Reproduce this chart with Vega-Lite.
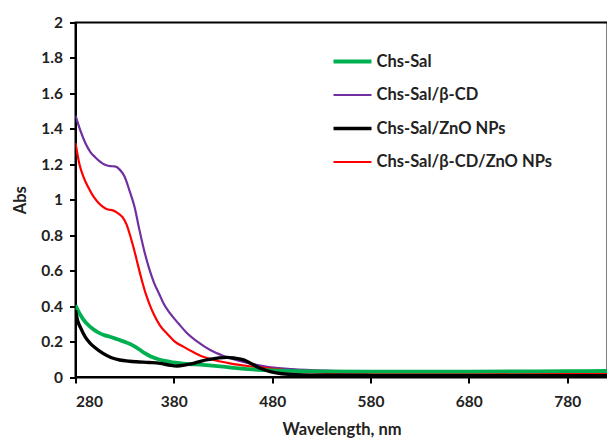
{
  "$schema": "https://vega.github.io/schema/vega-lite/v6.json",
  "autosize": "none",
  "padding": {"left": 75.5, "top": 22.5, "right": 0, "bottom": 63},
  "width": 532,
  "height": 354.5,
  "background": "white",
  "config": {
    "view": {"stroke": "black", "strokeWidth": 2},
    "font": "Lato"
  },
  "datasets": {
    "spectra": [
      {"series": "Chs-Sal/β-CD", "wl": 280, "abs": 1.475},
      {"series": "Chs-Sal/β-CD", "wl": 285, "abs": 1.39},
      {"series": "Chs-Sal/β-CD", "wl": 290, "abs": 1.32},
      {"series": "Chs-Sal/β-CD", "wl": 295, "abs": 1.27},
      {"series": "Chs-Sal/β-CD", "wl": 300, "abs": 1.24},
      {"series": "Chs-Sal/β-CD", "wl": 305, "abs": 1.215},
      {"series": "Chs-Sal/β-CD", "wl": 310, "abs": 1.197},
      {"series": "Chs-Sal/β-CD", "wl": 315, "abs": 1.19},
      {"series": "Chs-Sal/β-CD", "wl": 320, "abs": 1.188},
      {"series": "Chs-Sal/β-CD", "wl": 325, "abs": 1.17},
      {"series": "Chs-Sal/β-CD", "wl": 330, "abs": 1.13},
      {"series": "Chs-Sal/β-CD", "wl": 335, "abs": 1.05},
      {"series": "Chs-Sal/β-CD", "wl": 340, "abs": 0.96},
      {"series": "Chs-Sal/β-CD", "wl": 345, "abs": 0.83},
      {"series": "Chs-Sal/β-CD", "wl": 350, "abs": 0.71},
      {"series": "Chs-Sal/β-CD", "wl": 355, "abs": 0.61},
      {"series": "Chs-Sal/β-CD", "wl": 360, "abs": 0.53},
      {"series": "Chs-Sal/β-CD", "wl": 365, "abs": 0.47},
      {"series": "Chs-Sal/β-CD", "wl": 370, "abs": 0.41},
      {"series": "Chs-Sal/β-CD", "wl": 376, "abs": 0.36},
      {"series": "Chs-Sal/β-CD", "wl": 385, "abs": 0.30},
      {"series": "Chs-Sal/β-CD", "wl": 393, "abs": 0.25},
      {"series": "Chs-Sal/β-CD", "wl": 405, "abs": 0.195},
      {"series": "Chs-Sal/β-CD", "wl": 417, "abs": 0.152},
      {"series": "Chs-Sal/β-CD", "wl": 430, "abs": 0.12},
      {"series": "Chs-Sal/β-CD", "wl": 444, "abs": 0.095},
      {"series": "Chs-Sal/β-CD", "wl": 460, "abs": 0.073},
      {"series": "Chs-Sal/β-CD", "wl": 475, "abs": 0.058},
      {"series": "Chs-Sal/β-CD", "wl": 500, "abs": 0.045},
      {"series": "Chs-Sal/β-CD", "wl": 540, "abs": 0.035},
      {"series": "Chs-Sal/β-CD", "wl": 580, "abs": 0.03},
      {"series": "Chs-Sal/β-CD", "wl": 680, "abs": 0.027},
      {"series": "Chs-Sal/β-CD", "wl": 780, "abs": 0.028},
      {"series": "Chs-Sal/β-CD", "wl": 821, "abs": 0.028},

      {"series": "Chs-Sal/β-CD/ZnO NPs", "wl": 280, "abs": 1.32},
      {"series": "Chs-Sal/β-CD/ZnO NPs", "wl": 284, "abs": 1.2},
      {"series": "Chs-Sal/β-CD/ZnO NPs", "wl": 288, "abs": 1.13},
      {"series": "Chs-Sal/β-CD/ZnO NPs", "wl": 293, "abs": 1.07},
      {"series": "Chs-Sal/β-CD/ZnO NPs", "wl": 298, "abs": 1.02},
      {"series": "Chs-Sal/β-CD/ZnO NPs", "wl": 303, "abs": 0.985},
      {"series": "Chs-Sal/β-CD/ZnO NPs", "wl": 308, "abs": 0.96},
      {"series": "Chs-Sal/β-CD/ZnO NPs", "wl": 313, "abs": 0.945},
      {"series": "Chs-Sal/β-CD/ZnO NPs", "wl": 318, "abs": 0.94},
      {"series": "Chs-Sal/β-CD/ZnO NPs", "wl": 323, "abs": 0.925},
      {"series": "Chs-Sal/β-CD/ZnO NPs", "wl": 328, "abs": 0.90},
      {"series": "Chs-Sal/β-CD/ZnO NPs", "wl": 332, "abs": 0.86},
      {"series": "Chs-Sal/β-CD/ZnO NPs", "wl": 336, "abs": 0.79},
      {"series": "Chs-Sal/β-CD/ZnO NPs", "wl": 340, "abs": 0.71},
      {"series": "Chs-Sal/β-CD/ZnO NPs", "wl": 344, "abs": 0.62},
      {"series": "Chs-Sal/β-CD/ZnO NPs", "wl": 348, "abs": 0.535},
      {"series": "Chs-Sal/β-CD/ZnO NPs", "wl": 352, "abs": 0.46},
      {"series": "Chs-Sal/β-CD/ZnO NPs", "wl": 356, "abs": 0.40},
      {"series": "Chs-Sal/β-CD/ZnO NPs", "wl": 360, "abs": 0.35},
      {"series": "Chs-Sal/β-CD/ZnO NPs", "wl": 366, "abs": 0.29},
      {"series": "Chs-Sal/β-CD/ZnO NPs", "wl": 373, "abs": 0.245},
      {"series": "Chs-Sal/β-CD/ZnO NPs", "wl": 381, "abs": 0.20},
      {"series": "Chs-Sal/β-CD/ZnO NPs", "wl": 390, "abs": 0.17},
      {"series": "Chs-Sal/β-CD/ZnO NPs", "wl": 400, "abs": 0.14},
      {"series": "Chs-Sal/β-CD/ZnO NPs", "wl": 410, "abs": 0.114},
      {"series": "Chs-Sal/β-CD/ZnO NPs", "wl": 423, "abs": 0.093},
      {"series": "Chs-Sal/β-CD/ZnO NPs", "wl": 437, "abs": 0.077},
      {"series": "Chs-Sal/β-CD/ZnO NPs", "wl": 455, "abs": 0.062},
      {"series": "Chs-Sal/β-CD/ZnO NPs", "wl": 475, "abs": 0.05},
      {"series": "Chs-Sal/β-CD/ZnO NPs", "wl": 500, "abs": 0.035},
      {"series": "Chs-Sal/β-CD/ZnO NPs", "wl": 540, "abs": 0.022},
      {"series": "Chs-Sal/β-CD/ZnO NPs", "wl": 580, "abs": 0.018},
      {"series": "Chs-Sal/β-CD/ZnO NPs", "wl": 680, "abs": 0.016},
      {"series": "Chs-Sal/β-CD/ZnO NPs", "wl": 780, "abs": 0.017},
      {"series": "Chs-Sal/β-CD/ZnO NPs", "wl": 821, "abs": 0.017},

      {"series": "Chs-Sal", "wl": 280, "abs": 0.405},
      {"series": "Chs-Sal", "wl": 285, "abs": 0.35},
      {"series": "Chs-Sal", "wl": 290, "abs": 0.31},
      {"series": "Chs-Sal", "wl": 295, "abs": 0.283},
      {"series": "Chs-Sal", "wl": 300, "abs": 0.262},
      {"series": "Chs-Sal", "wl": 305, "abs": 0.246},
      {"series": "Chs-Sal", "wl": 310, "abs": 0.235},
      {"series": "Chs-Sal", "wl": 315, "abs": 0.227},
      {"series": "Chs-Sal", "wl": 320, "abs": 0.218},
      {"series": "Chs-Sal", "wl": 325, "abs": 0.208},
      {"series": "Chs-Sal", "wl": 330, "abs": 0.198},
      {"series": "Chs-Sal", "wl": 335, "abs": 0.188},
      {"series": "Chs-Sal", "wl": 340, "abs": 0.173},
      {"series": "Chs-Sal", "wl": 345, "abs": 0.155},
      {"series": "Chs-Sal", "wl": 350, "abs": 0.136},
      {"series": "Chs-Sal", "wl": 356, "abs": 0.117},
      {"series": "Chs-Sal", "wl": 365, "abs": 0.099},
      {"series": "Chs-Sal", "wl": 376, "abs": 0.086},
      {"series": "Chs-Sal", "wl": 390, "abs": 0.076},
      {"series": "Chs-Sal", "wl": 410, "abs": 0.068},
      {"series": "Chs-Sal", "wl": 430, "abs": 0.058},
      {"series": "Chs-Sal", "wl": 444, "abs": 0.05},
      {"series": "Chs-Sal", "wl": 460, "abs": 0.043},
      {"series": "Chs-Sal", "wl": 480, "abs": 0.037},
      {"series": "Chs-Sal", "wl": 520, "abs": 0.032},
      {"series": "Chs-Sal", "wl": 580, "abs": 0.03},
      {"series": "Chs-Sal", "wl": 680, "abs": 0.03},
      {"series": "Chs-Sal", "wl": 780, "abs": 0.033},
      {"series": "Chs-Sal", "wl": 821, "abs": 0.034},

      {"series": "Chs-Sal/ZnO NPs", "wl": 280, "abs": 0.377},
      {"series": "Chs-Sal/ZnO NPs", "wl": 282, "abs": 0.32},
      {"series": "Chs-Sal/ZnO NPs", "wl": 285, "abs": 0.28},
      {"series": "Chs-Sal/ZnO NPs", "wl": 290, "abs": 0.225},
      {"series": "Chs-Sal/ZnO NPs", "wl": 295, "abs": 0.19},
      {"series": "Chs-Sal/ZnO NPs", "wl": 300, "abs": 0.165},
      {"series": "Chs-Sal/ZnO NPs", "wl": 308, "abs": 0.133},
      {"series": "Chs-Sal/ZnO NPs", "wl": 316, "abs": 0.11},
      {"series": "Chs-Sal/ZnO NPs", "wl": 325, "abs": 0.096},
      {"series": "Chs-Sal/ZnO NPs", "wl": 335, "abs": 0.089},
      {"series": "Chs-Sal/ZnO NPs", "wl": 342, "abs": 0.086},
      {"series": "Chs-Sal/ZnO NPs", "wl": 355, "abs": 0.082},
      {"series": "Chs-Sal/ZnO NPs", "wl": 366, "abs": 0.077},
      {"series": "Chs-Sal/ZnO NPs", "wl": 375, "abs": 0.068},
      {"series": "Chs-Sal/ZnO NPs", "wl": 383, "abs": 0.062},
      {"series": "Chs-Sal/ZnO NPs", "wl": 392, "abs": 0.068},
      {"series": "Chs-Sal/ZnO NPs", "wl": 400, "abs": 0.077},
      {"series": "Chs-Sal/ZnO NPs", "wl": 408, "abs": 0.09},
      {"series": "Chs-Sal/ZnO NPs", "wl": 417, "abs": 0.10},
      {"series": "Chs-Sal/ZnO NPs", "wl": 426, "abs": 0.108},
      {"series": "Chs-Sal/ZnO NPs", "wl": 434, "abs": 0.111},
      {"series": "Chs-Sal/ZnO NPs", "wl": 442, "abs": 0.106},
      {"series": "Chs-Sal/ZnO NPs", "wl": 451, "abs": 0.096},
      {"series": "Chs-Sal/ZnO NPs", "wl": 460, "abs": 0.072},
      {"series": "Chs-Sal/ZnO NPs", "wl": 468, "abs": 0.049},
      {"series": "Chs-Sal/ZnO NPs", "wl": 478, "abs": 0.03},
      {"series": "Chs-Sal/ZnO NPs", "wl": 490, "abs": 0.018},
      {"series": "Chs-Sal/ZnO NPs", "wl": 520, "abs": 0.01},
      {"series": "Chs-Sal/ZnO NPs", "wl": 580, "abs": 0.008},
      {"series": "Chs-Sal/ZnO NPs", "wl": 680, "abs": 0.007},
      {"series": "Chs-Sal/ZnO NPs", "wl": 780, "abs": 0.007},
      {"series": "Chs-Sal/ZnO NPs", "wl": 821, "abs": 0.007}
    ]
  },
  "data": {"name": "spectra"},
  "transform": [
    {"calculate": "indexof(['Chs-Sal/β-CD','Chs-Sal/β-CD/ZnO NPs','Chs-Sal','Chs-Sal/ZnO NPs'], datum.series)", "as": "drawOrder"}
  ],
  "mark": {"type": "line", "interpolate": "monotone", "clip": true},
  "encoding": {
    "x": {
      "field": "wl", "type": "quantitative",
      "scale": {"domain": [280, 821], "nice": false, "zero": false},
      "axis": {
        "values": [280, 380, 480, 580, 680, 780],
        "title": "Wavelength, nm",
        "grid": false,
        "domainColor": "black", "domainWidth": 2,
        "tickColor": "black", "tickWidth": 2, "tickSize": 6,
        "labelFont": "Lato", "labelFontSize": 15.5, "labelFontWeight": "bold", "labelColor": "#222",
        "labelPadding": 11,
        "titleFont": "Lato", "titleFontSize": 16.5, "titleFontWeight": "bold", "titleColor": "#222",
        "titlePadding": 12
      }
    },
    "y": {
      "field": "abs", "type": "quantitative",
      "scale": {"domain": [0, 2], "nice": false},
      "axis": {
        "values": [0, 0.2, 0.4, 0.6, 0.8, 1, 1.2, 1.4, 1.6, 1.8, 2],
        "format": "~g",
        "title": "Abs",
        "grid": false,
        "domainColor": "black", "domainWidth": 2,
        "tickColor": "black", "tickWidth": 2, "tickSize": 6,
        "labelFont": "Lato", "labelFontSize": 15.5, "labelFontWeight": "bold", "labelColor": "#222",
        "labelPadding": 7,
        "titleFont": "Lato", "titleFontSize": 16.5, "titleFontWeight": "bold", "titleColor": "#222",
        "titlePadding": 12
      }
    },
    "color": {
      "field": "series", "type": "nominal",
      "scale": {
        "domain": ["Chs-Sal", "Chs-Sal/β-CD", "Chs-Sal/ZnO NPs", "Chs-Sal/β-CD/ZnO NPs"],
        "range": ["#00B050", "#7030A0", "#000000", "#FF0000"]
      },
      "legend": {
        "title": null,
        "orient": "none",
        "legendX": 256,
        "legendY": 18,
        "symbolType": "stroke",
        "symbolSize": 1444,
        "rowPadding": 4,
        "labelOffset": 3,
        "labelLimit": 400,
        "labelFont": "Lato", "labelFontSize": 16.5, "labelFontWeight": "bold", "labelColor": "#222"
      }
    },
    "strokeWidth": {
      "field": "series", "type": "nominal",
      "scale": {
        "type": "ordinal",
        "domain": ["Chs-Sal", "Chs-Sal/β-CD", "Chs-Sal/ZnO NPs", "Chs-Sal/β-CD/ZnO NPs"],
        "range": [3.8, 2.2, 3.4, 2.2]
      },
      "legend": {
        "title": null,
        "orient": "none",
        "legendX": 256,
        "legendY": 18,
        "symbolType": "stroke",
        "symbolSize": 1444,
        "rowPadding": 4,
        "labelOffset": 3,
        "labelLimit": 400,
        "labelFont": "Lato", "labelFontSize": 16.5, "labelFontWeight": "bold", "labelColor": "#222"
      }
    },
    "order": {"field": "drawOrder"}
  }
}
